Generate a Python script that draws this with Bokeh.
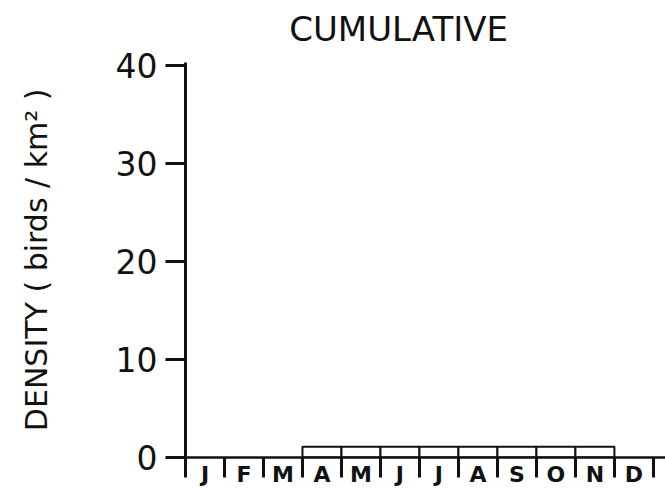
import numpy as np
from bokeh.plotting import figure
from bokeh.models import FixedTicker, Range1d, LinearAxis
from bokeh.core.properties import value
from bokeh.embed import file_html
from bokeh.resources import INLINE

# ---- data ----
months = ["J", "F", "M", "A", "M", "J", "J", "A", "S", "O", "N", "D"]
density = [0, 0, 0, 1.1, 1.1, 1.1, 1.1, 1.1, 1.1, 1.1, 1.1, 0]
y_ticks = [0, 10, 20, 30, 40]
title_text = "CUMULATIVE"
y_label = "DENSITY ( birds / km\u00b2 )"

FONT = "DejaVu Sans"
INK = "#111111"
Y_AXIS_TOP = 40.3
PX_PER_UNIT = 9.875
FRAME_H = 460
Y_VIEW_TOP = FRAME_H / PX_PER_UNIT

p = figure(width=665, height=489, output_backend="svg", toolbar_location=None,
           x_range=Range1d(0, 12.31), y_range=Range1d(0, Y_VIEW_TOP),
           min_border_left=185, min_border_right=0, min_border_top=0,
           min_border_bottom=29)
p.outline_line_color = None
p.grid.visible = False
p.background_fill_color = "white"
p.border_fill_color = "white"

# bars (only months with data)
idx = np.arange(len(months))
left = [i for i, v in zip(idx, density) if v > 0]
tops = [v for v in density if v > 0]
p.quad(left=left, right=[l + 1 for l in left], bottom=0, top=tops,
       fill_color="white", line_color=INK, line_width=2)

# title, above the end of the y axis
p.text(x=[2.66], y=[Y_VIEW_TOP - 29 / PX_PER_UNIT], text=[title_text],
       text_font=value(FONT), text_font_size="34px", text_color=INK,
       text_align="left", text_baseline="alphabetic")

# y axis
ya = p.yaxis[0]
ya.bounds = (0, Y_AXIS_TOP)
ya.ticker = FixedTicker(ticks=y_ticks, minor_ticks=[])
ya.major_tick_out = 20
ya.major_tick_in = 0
ya.major_tick_line_width = 3
ya.major_tick_line_color = INK
ya.axis_line_width = 3
ya.axis_line_color = INK
ya.major_label_text_font = FONT
ya.major_label_text_font_size = "33px"
ya.major_label_text_color = INK
ya.major_label_standoff = 8

# y axis title, centred on the drawn part of the axis
mid = Y_AXIS_TOP / 2
lab_axis = LinearAxis(ticker=FixedTicker(ticks=[mid], minor_ticks=[]),
                      major_label_overrides={mid: y_label},
                      bounds=(0, Y_AXIS_TOP),
                      axis_line_color=None, major_tick_line_color=None,
                      major_tick_out=0, major_tick_in=0,
                      major_label_orientation="vertical",
                      major_label_standoff=58,
                      major_label_text_font=FONT,
                      major_label_text_font_size="30px",
                      major_label_text_color=INK)
p.add_layout(lab_axis, "left")

# x axis: month labels centred between boundary ticks
xa = p.xaxis[0]
centers = [i + 0.5 for i in idx]
xa.ticker = FixedTicker(ticks=centers, minor_ticks=list(range(len(months) + 1)))
xa.major_label_overrides = {c: m for c, m in zip(centers, months)}
xa.major_tick_out = 0
xa.major_tick_in = 0
xa.minor_tick_out = 20
xa.minor_tick_in = 0
xa.minor_tick_line_width = 3
xa.minor_tick_line_color = INK
xa.axis_line_width = 2.5
xa.axis_line_color = INK
xa.major_label_text_font = FONT
xa.major_label_text_font_size = "22px"
xa.major_label_text_font_style = "bold"
xa.major_label_text_color = INK
xa.major_label_standoff = -16

open("out.html", "w").write(file_html(p, INLINE))
